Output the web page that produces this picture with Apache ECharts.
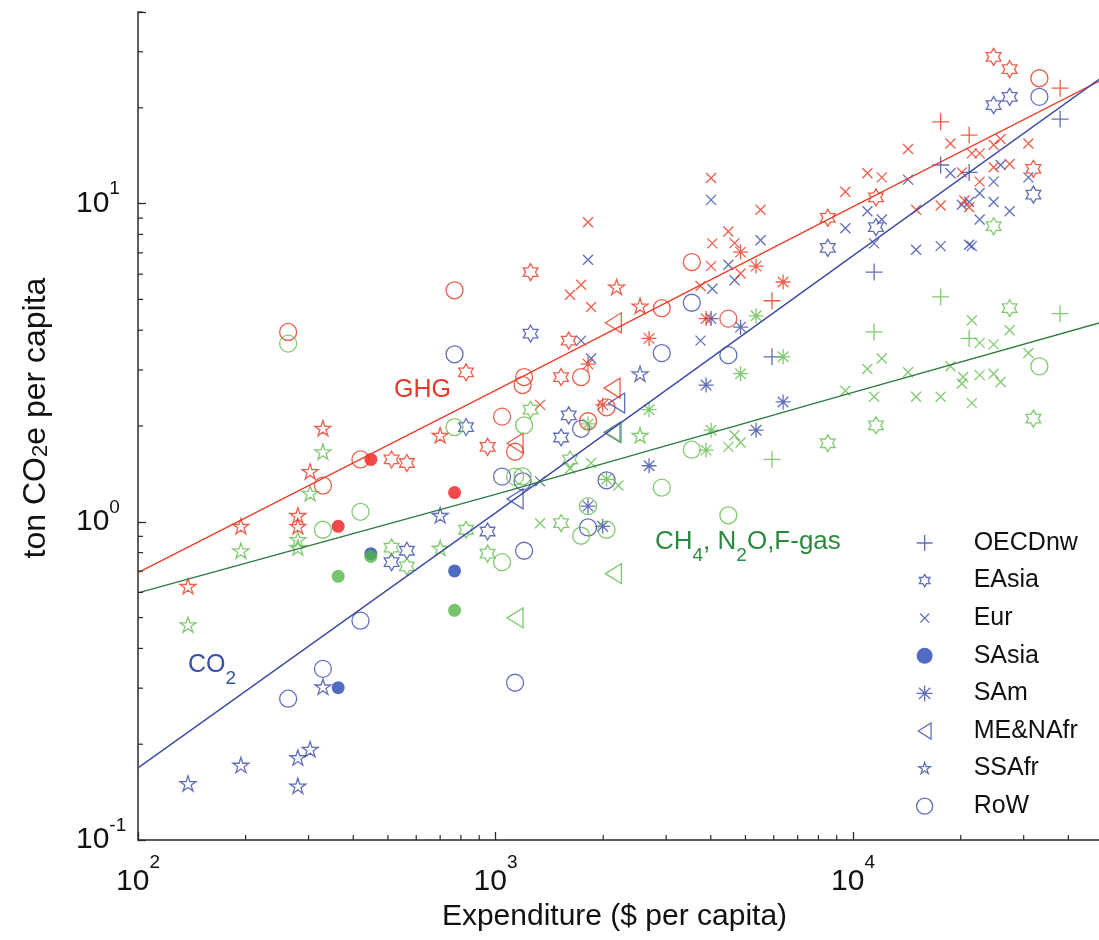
<!DOCTYPE html>
<html><head><meta charset="utf-8">
<script src="https://cdn.jsdelivr.net/npm/echarts@6/dist/echarts.min.js"></script>
<style>html,body{margin:0;padding:0;background:#fff}#c{width:1099px;height:940px}</style>
</head><body><div id="c"></div><script>
// ---------- data: [expenditure ($ per capita), ton CO2e per capita] ----------
const regions = ['OECDnw','EAsia','Eur','SAsia','SAm','ME&NAfr','SSAfr','RoW'];

const oecdGHG   = [[5933,4.95],[17575,18.07],[21115,16.42],[37930,23.05]];
const oecdCO2   = [[5933,3.30],[11451,6.09],[17575,13.22],[21115,12.53],[37930,18.43]];
const oecdOther = [[5933,1.57],[11451,3.95],[17575,5.09],[21115,3.77],[37930,4.51]];

const easiaGHG   = [[512,1.57],[565,1.53],[827,2.95],[950,1.72],[1253,6.09],[1525,2.85],[1602,3.71],[8496,9.02],[11586,10.46],[24720,28.9],[27410,26.45],[31940,12.85]];
const easiaCO2   = [[512,0.747],[565,0.811],[827,1.985],[950,0.932],[1253,3.90],[1525,1.84],[1602,2.16],[8496,7.26],[11586,8.43],[24720,20.39],[27410,21.65],[31940,10.67]];
const easiaOther = [[512,0.83],[565,0.724],[827,0.944],[950,0.794],[1253,2.25],[1525,0.99],[1616,1.57],[8496,1.765],[11586,2.01],[24720,8.49],[27410,4.69],[31940,2.11]];

const eurGHG = [[4007,12.04],[5511,9.56],[1814,8.74],[4479,8.17],[4040,7.5],[4662,7.51],[4007,6.36],[4845,6.03],[3744,5.51],[1735,5.56],[1616,5.17],[1850,4.73],[1332,2.33],
  [14250,14.84],[18720,15.45],[21480,14.38],[22590,14.38],[24720,15.31],[25860,15.95],[30930,15.45],[20140,12.53],[24720,13.0],[27410,13.32],[10965,12.45],[12033,12.09],[9517,10.9],[22590,11.72],[15006,9.56],[17575,9.86],[20480,10.22],[21115,9.74]];
const eurCO2 = [[4007,10.27],[5511,7.67],[1814,6.66],[4479,6.42],[4662,5.74],[4040,5.40],[3744,3.71],[1735,3.71],[1850,3.26],[1332,1.34],
  [18720,12.45],[25860,13.22],[30930,12.09],[14250,11.89],[24720,11.72],[10965,9.46],[12033,8.91],[9517,8.37],[20140,9.91],[21115,10.12],[22590,10.77],[24720,10.12],[22590,8.91],[27410,9.46],[11451,7.5],[15006,7.16],[17575,7.35],[21115,7.42],[21480,7.35]];
const eurOther = [[1616,1.47],[1850,1.53],[2206,1.30],[1332,0.99],[4662,1.87],[4845,1.776],[4479,1.72],
  [21480,4.30],[27410,4.0],[22590,3.65],[24720,3.61],[30930,3.39],[12033,3.26],[10965,3.02],[14250,2.95],[18720,3.08],[9517,2.58],[20310,2.85],[20140,2.72],[22590,2.89],[24720,2.92],[25860,2.75],[11451,2.47],[15006,2.47],[17575,2.47],[21480,2.36]];

const sasiaGHG   = [[363,0.968],[448,1.57],[768,1.235]];
const sasiaCO2   = [[363,0.301],[448,0.794],[768,0.701]];
const sasiaOther = [[363,0.674],[448,0.778],[768,0.527]];

const samGHG   = [[1814,3.13],[1994,2.33],[2688,3.77],[3880,4.35],[4845,7.04],[5355,6.36],[6371,5.67]];
const samCO2   = [[1814,1.12],[1994,0.968],[2688,1.50],[3880,2.69],[4007,4.35],[4845,4.09],[5355,1.94],[6371,2.38]];
const samOther = [[1814,2.03],[2044,1.36],[2688,2.25],[3880,1.68],[4007,1.94],[4845,2.92],[5355,4.44],[6371,3.30]];

const menaGHG   = [[1134,1.765],[2118,2.63],[2136,4.22]];
const menaCO2   = [[1134,1.18],[2118,1.91],[2181,2.36]];
const menaOther = [[1134,0.499],[2136,0.687],[2136,1.91]];

const ssafrGHG   = [[138,0.627],[194,0.968],[280,1.048],[280,0.968],[303,1.44],[329,1.97],[700,1.87],[2181,5.47],[2536,4.77]];
const ssafrCO2   = [[138,0.1506],[194,0.172],[280,0.1816],[280,0.148],[303,0.193],[329,0.303],[700,1.048],[2536,2.92]];
const ssafrOther = [[138,0.475],[194,0.811],[280,0.88],[280,0.83],[303,1.23],[329,1.66],[700,0.827],[2536,1.87]];

const rowGHG   = [[263,3.95],[329,1.30],[419,1.57],[768,5.34],[1043,2.14],[1134,1.66],[1190,2.69],[1202,2.85],[1735,2.85],[1814,2.07],[2044,2.29],[2917,4.69],[3539,6.55],[4479,4.35],[33190,24.77]];
const rowCO2   = [[263,0.278],[329,0.345],[419,0.489],[768,3.36],[1043,1.387],[1134,0.312],[1190,1.34],[1202,0.811],[1735,1.96],[1814,0.96],[2044,1.35],[2917,3.39],[3539,4.88],[4479,3.34],[33190,21.65]];
const rowOther = [[263,3.63],[329,0.944],[419,1.075],[768,1.985],[1043,0.747],[1134,1.387],[1190,1.39],[1202,2.01],[1735,0.904],[1814,1.12],[2044,0.944],[2917,1.28],[3539,1.685],[4479,1.048],[33190,3.08]];

// fitted lines
const fitX     = [100, 1000, 10000, 50000];
const ghgFit   = [0.692, 2.59, 9.79, 24.6];
const co2Fit   = [0.1686, 1.067, 6.86, 25.1];
const otherFit = [0.598, 1.22, 2.55, 4.25];

// axes
const xRange = [100, 50000];
const yRange = [0.1, 40];
const xMinorTicks = [200,300,400,500,600,700,800,900,2000,3000,4000,5000,6000,7000,8000,9000,20000,30000,40000];
const yMinorTicks = [0.2,0.3,0.4,0.5,0.6,0.7,0.8,0.9,2,3,4,5,6,7,8,9,20,30,40];

// ---------- styling ----------
const FONT = '"Liberation Sans", Arial, Helvetica, sans-serif';
const RED = '#e8361f', BLUE = '#3a4aa8', GREEN = '#62bd4c';
const RED_F = '#ee1c1c', BLUE_F = '#2646b4', GREEN_F = '#52b646';
const SYM = {
  plus:  'path://M0,5L10,5M5,0L5,10',
  cross: 'path://M0,0L10,10M10,0L0,10',
  aster: 'path://M0,5L10,5M5,0L5,10M1.5,1.5L8.5,8.5M8.5,1.5L1.5,8.5',
  hexa:  'path://M5,0L6.443,2.5L9.33,2.5L7.887,5L9.33,7.5L6.443,7.5L5,10L3.557,7.5L0.67,7.5L2.113,5L0.67,2.5L3.557,2.5Z',
  penta: 'path://M5,0L6.123,3.455L9.755,3.455L6.816,5.59L7.939,9.045L5,6.91L2.061,9.045L3.184,5.59L0.245,3.455L3.877,3.455Z',
  tri:   'path://M0,10L16,0L16,20Z'
};
// legend icons (same shapes, with empty margin so they draw at the reference's legend sizes)
const LEG_ICON = {
  EAsia: 'path://M-1.5,-1.5M11.5,11.5M5,0L6.443,2.5L9.33,2.5L7.887,5L9.33,7.5L6.443,7.5L5,10L3.557,7.5L0.67,7.5L2.113,5L0.67,2.5L3.557,2.5Z',
  Eur:   'path://M-4,-4M14,14M0,0L10,10M10,0L0,10',
  SSAfr: 'path://M-1.5,-1.5M11.5,11.5M5,0L6.123,3.455L9.755,3.455L6.816,5.59L7.939,9.045L5,6.91L2.061,9.045L3.184,5.59L0.245,3.455L3.877,3.455Z'
};
const regionDefs = [
  {name:'OECDnw',  sym:SYM.plus,  size:17, d:[oecdGHG,oecdCO2,oecdOther]},
  {name:'EAsia',   sym:SYM.hexa,  size:17, d:[easiaGHG,easiaCO2,easiaOther]},
  {name:'Eur',     sym:SYM.cross, size:10, d:[eurGHG,eurCO2,eurOther]},
  {name:'SAsia',   sym:'circle',  size:13, d:[sasiaGHG,sasiaCO2,sasiaOther], filled:true},
  {name:'SAm',     sym:SYM.aster, size:15, d:[samGHG,samCO2,samOther]},
  {name:'ME&NAfr', sym:SYM.tri,   size:20, d:[menaGHG,menaCO2,menaOther]},
  {name:'SSAfr',   sym:SYM.penta, size:16, d:[ssafrGHG,ssafrCO2,ssafrOther]},
  {name:'RoW',     sym:'circle',  size:17, d:[rowGHG,rowCO2,rowOther]}
];

function scat(name, data, r, color, fillColor) {
  return {
    type:'scatter', name, data, symbol:r.sym, symbolSize:r.size, symbolKeepAspect:true,
    silent:true, z:3,
    itemStyle: r.filled ? {color: fillColor, borderWidth:0}
                        : {color:'rgba(0,0,0,0)', borderColor:color, borderWidth:1.3}
  };
}
const series = [];
regionDefs.forEach(r => series.push(scat(r.name, r.d[1], r, BLUE, BLUE_F)));
regionDefs.forEach(r => series.push(scat(r.name + ' GHG', r.d[0], r, RED, RED_F)));
regionDefs.forEach(r => series.push(scat(r.name + ' other', r.d[2], r, GREEN, GREEN_F)));

function fitLine(name, ys, color) {
  return {type:'line', name, data: fitX.map((x,i)=>[x, ys[i]]), showSymbol:false, symbol:'none',
    silent:true, z:4, lineStyle:{color, width:1.4}};
}
series.push(fitLine('GHG fit', ghgFit, '#e8402a'));
series.push(fitLine('CO2 fit', co2Fit, '#3b4aa6'));
series.push(fitLine('other fit', otherFit, '#2e7a3c'));

// minor ticks (drawn at library-computed positions)
series.push({type:'custom', silent:true, z:5, clip:false,
  data: xMinorTicks.map(v => [v, yRange[0]]),
  renderItem: (p, api) => { const c = api.coord([api.value(0), api.value(1)]);
    return {type:'line', shape:{x1:c[0], y1:c[1], x2:c[0], y2:c[1]-5}, style:{stroke:'#2a2a2a', lineWidth:1.2}}; }
});
series.push({type:'custom', silent:true, z:5, clip:false,
  data: yMinorTicks.map(v => [xRange[0], v]),
  renderItem: (p, api) => { const c = api.coord([api.value(0), api.value(1)]);
    return {type:'line', shape:{x1:c[0], y1:c[1], x2:c[0]+5, y2:c[1]}, style:{stroke:'#2a2a2a', lineWidth:1.2}}; }
});

function powLabel(v) {
  const l = Math.log10(v), e = Math.round(l);
  if (Math.abs(l - e) > 1e-6) return '';
  return '{b|10}{s|' + e + '}';
}

const chart = echarts.init(document.getElementById('c'), null, {renderer:'canvas'});
chart.setOption({
  animation:false,
  backgroundColor:'#fff',
  grid:{left:138, right:-4, top:12, bottom:100, containLabel:false, outerBoundsMode:'none'},
  xAxis:{
    type:'log', logBase:10, min:xRange[0], max:xRange[1],
    name:'Expenditure ($ per capita)', nameLocation:'middle', nameGap:60,
    nameTextStyle:{fontFamily:FONT, fontSize:30, color:'#111', padding:[0,12,0,0]},
    axisLine:{show:true, lineStyle:{color:'#2a2a2a', width:1.5}},
    axisTick:{show:true, inside:true, length:8, lineStyle:{color:'#2a2a2a', width:1.3}},
    splitLine:{show:false}, minorTick:{show:false}, minorSplitLine:{show:false},
    axisLabel:{margin:13, formatter:powLabel, color:'#111',
      rich:{b:{fontFamily:FONT, fontSize:30, lineHeight:58, color:'#111'},
            s:{fontFamily:FONT, fontSize:19, lineHeight:19, verticalAlign:'top', color:'#111'}}}
  },
  yAxis:{
    type:'log', logBase:10, min:yRange[0], max:yRange[1],
    name:'{a|ton CO}{s|2}{a|e per capita}', nameLocation:'middle', nameGap:86, nameRotate:90,
    nameTextStyle:{fontFamily:FONT, fontSize:32, color:'#111', padding:[0,0,0,16],
      rich:{a:{fontFamily:FONT, fontSize:32, lineHeight:32, color:'#111'},
            s:{fontFamily:FONT, fontSize:22, lineHeight:22, verticalAlign:'bottom', color:'#111'}}},
    axisLine:{show:true, lineStyle:{color:'#2a2a2a', width:1.5}},
    axisTick:{show:true, inside:true, length:8, lineStyle:{color:'#2a2a2a', width:1.3}},
    splitLine:{show:false}, minorTick:{show:false}, minorSplitLine:{show:false},
    axisLabel:{margin:62, align:'left', formatter:powLabel, color:'#111',
      rich:{b:{fontFamily:FONT, fontSize:30, lineHeight:48, color:'#111'},
            s:{fontFamily:FONT, fontSize:19, lineHeight:19, verticalAlign:'top', color:'#111'}}}
  },
  legend:{
    data: regions.map(n => LEG_ICON[n] ? {name:n, icon:LEG_ICON[n]} : {name:n}),
    orient:'vertical', align:'left', left:916, top:528, padding:0,
    itemWidth:88, itemHeight:16, itemGap:7.6, selectedMode:false,
    itemStyle:{borderWidth:1.3},
    textStyle:{fontFamily:FONT, fontSize:25, lineHeight:30, color:'#111'}
  },
  graphic:[
    {type:'text', x:394, y:390, silent:true, style:{text:'GHG', fill:'#e23a2c', font:'25px '+FONT, align:'left', verticalAlign:'middle'}},
    {type:'text', x:188, y:665, silent:true, style:{text:'CO{s|2}', fill:'#3b4fa6', font:'25px '+FONT, lineHeight:46, align:'left', verticalAlign:'middle',
      rich:{s:{fontSize:19, fontFamily:FONT, lineHeight:17, verticalAlign:'bottom', fill:'#3b4fa6'}}}},
    {type:'text', x:655, y:542, silent:true, style:{text:'CH{s|4}, N{s|2}O,F-gas', fill:'#2b8a3f', font:'26px '+FONT, lineHeight:46, align:'left', verticalAlign:'middle',
      rich:{s:{fontSize:19, fontFamily:FONT, lineHeight:17, verticalAlign:'bottom', fill:'#2b8a3f'}}}}
  ],
  series
});
</script></body></html>
